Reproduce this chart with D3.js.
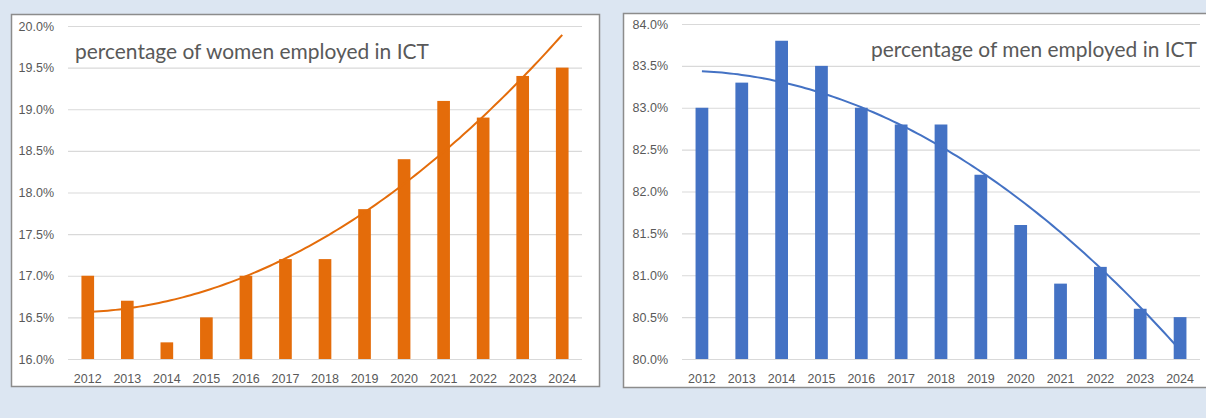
<!DOCTYPE html>
<html>
<head>
<meta charset="utf-8">
<script src="https://cdn.jsdelivr.net/npm/d3@7"></script>
<style>
  html, body { margin: 0; padding: 0; background: #dce6f2; }
  svg { display: block; font-family: Lato, 'Open Sans', sans-serif; }
</style>
</head>
<body>
<svg id="chart" width="1206" height="418"></svg>
<script>
const years = ['2012', '2013', '2014', '2015', '2016', '2017', '2018', '2019', '2020', '2021', '2022', '2023', '2024'];
const womenShare = [17.0, 16.7, 16.2, 16.5, 17.0, 17.2, 17.2, 17.8, 18.4, 19.1, 18.9, 19.4, 19.5];
const menShare = [83.0, 83.3, 83.8, 83.5, 83.0, 82.8, 82.8, 82.2, 81.6, 80.9, 81.1, 80.6, 80.5];
const womenTicks = [16.0, 16.5, 17.0, 17.5, 18.0, 18.5, 19.0, 19.5, 20.0];
const menTicks = [80.0, 80.5, 81.0, 81.5, 82.0, 82.5, 83.0, 83.5, 84.0];

// Least-squares polynomial, like Excel's "polynomial" trendline (x = category index).
function polyFit(ys, order) {
  const n = order + 1;
  const A = Array.from({ length: n }, () => new Array(n + 1).fill(0));
  ys.forEach((y, x) => {
    for (let i = 0; i < n; i++) {
      for (let j = 0; j < n; j++) A[i][j] += x ** (i + j);
      A[i][n] += y * x ** i;
    }
  });
  for (let c = 0; c < n; c++) {
    for (let r = c + 1; r < n; r++) {
      const f = A[r][c] / A[c][c];
      for (let k = c; k <= n; k++) A[r][k] -= f * A[c][k];
    }
  }
  const coef = new Array(n).fill(0);
  for (let r = n - 1; r >= 0; r--) {
    let s = A[r][n];
    for (let k = r + 1; k < n; k++) s -= A[r][k] * coef[k];
    coef[r] = s / A[r][r];
  }
  return x => coef.reduce((acc, c, i) => acc + c * x ** i, 0);
}

const svg = d3.select('#chart');
const textColor = '#595959';

function drawPanel(cfg) {
  const g = svg.append('g');

  g.append('rect')
    .attr('x', cfg.box[0] + 0.5).attr('y', cfg.box[1] + 0.5)
    .attr('width', cfg.box[2]).attr('height', cfg.box[3])
    .attr('fill', '#fff')
    .attr('stroke', '#8c8c8c')
    .attr('stroke-width', 1.5);

  const [left, top, right, bottom] = cfg.plot;

  const x = d3.scaleBand()
    .domain(years)
    .range([left, right])
    .paddingInner(0.68)
    .paddingOuter(0.34);

  const y = d3.scaleLinear()
    .domain(d3.extent(cfg.ticks))
    .range([bottom, top]);

  const yAxis = g.append('g')
    .attr('transform', `translate(${left},0)`)
    .call(d3.axisLeft(y).tickValues(cfg.ticks).tickSize(-(right - left)).tickPadding(14)
      .tickFormat(d => d.toFixed(1) + '%'));
  yAxis.select('.domain').remove();
  yAxis.selectAll('line').attr('stroke', '#d9d9d9').attr('stroke-width', 1.2);
  yAxis.selectAll('text').attr('fill', textColor).style('font-size', '12.5px');

  const xAxis = g.append('g')
    .attr('transform', `translate(0,${bottom})`)
    .call(d3.axisBottom(x).tickSize(0).tickPadding(15));
  xAxis.select('.domain').remove();
  xAxis.selectAll('text').attr('fill', textColor).style('font-size', '12.5px');

  g.append('g')
    .selectAll('rect')
    .data(cfg.values)
    .join('rect')
    .attr('x', (d, i) => x(years[i]))
    .attr('width', x.bandwidth())
    .attr('y', d => y(d))
    .attr('height', d => y.range()[0] - y(d))
    .attr('fill', cfg.color);

  const trend = polyFit(cfg.values, 2);
  const samples = d3.range(0, years.length - 1 + 1e-9, 0.1);
  const cx = t => x(years[0]) + x.bandwidth() / 2 + t * x.step();
  g.append('path')
    .datum(samples)
    .attr('fill', 'none')
    .attr('stroke', cfg.color)
    .attr('stroke-width', 2)
    .attr('d', d3.line().x(cx).y(t => y(trend(t))));

  const title = g.append('text')
    .attr('x', cfg.titleAt[0])
    .attr('y', cfg.titleAt[1])
    .attr('fill', textColor)
    .style('font-size', '20px')
    .text(cfg.title);
  const w = title.node().getComputedTextLength();
  title.style('font-size', (20 * cfg.titleWidth / w).toFixed(2) + 'px');
}

drawPanel({
  box: [11, 14, 588, 372],
  plot: [68, 26, 582, 359],
  ticks: womenTicks,
  values: womenShare,
  color: '#e46c0a',
  title: 'percentage of women employed in ICT',
  titleAt: [75, 59],
  titleWidth: 354
});

drawPanel({
  box: [623, 13, 600, 374],
  plot: [682, 24, 1200, 359],
  ticks: menTicks,
  values: menShare,
  color: '#4472c4',
  title: 'percentage of men employed in ICT',
  titleAt: [871, 57],
  titleWidth: 326
});
</script>
</body>
</html>
